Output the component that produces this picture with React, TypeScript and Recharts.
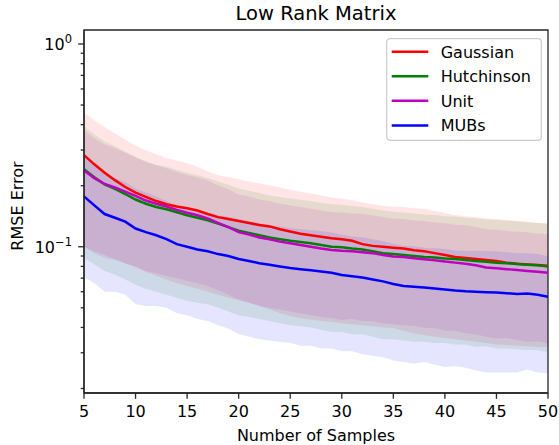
import React from 'react';
import { ComposedChart, Area, Line, XAxis, YAxis, Legend, ReferenceArea } from 'recharts';

const samples = [5, 6, 7, 8, 9, 10, 11, 12, 13, 14, 15, 16, 17, 18, 19, 20, 21, 22, 23, 24, 25, 26, 27, 28, 29, 30, 31, 32, 33, 34, 35, 36, 37, 38, 39, 40, 41, 42, 43, 44, 45, 46, 47, 48, 49, 50];

const gaussianMean = [0.283, 0.255, 0.232, 0.213, 0.197, 0.185, 0.176, 0.168, 0.162, 0.158, 0.155, 0.151, 0.145, 0.14, 0.137, 0.134, 0.131, 0.128, 0.126, 0.122, 0.119, 0.116, 0.114, 0.112, 0.11, 0.109, 0.107, 0.103, 0.101, 0.1, 0.099, 0.098, 0.096, 0.095, 0.093, 0.091, 0.089, 0.088, 0.087, 0.086, 0.085, 0.0835, 0.0825, 0.0818, 0.0812, 0.0806];
// spread above the mean
const gaussianStd = [0.175, 0.166, 0.158, 0.149, 0.14, 0.131, 0.123, 0.117, 0.112, 0.108, 0.103, 0.097, 0.09, 0.085, 0.083, 0.081, 0.079, 0.077, 0.075, 0.074, 0.072, 0.071, 0.069, 0.067, 0.065, 0.064, 0.063, 0.0625, 0.061, 0.0595, 0.0585, 0.059, 0.059, 0.059, 0.057, 0.0555, 0.054, 0.0535, 0.053, 0.052, 0.052, 0.052, 0.052, 0.051, 0.05, 0.0494];
// lower edge of the band
const gaussianLow = [0.1, 0.095, 0.091, 0.087, 0.083, 0.079, 0.075, 0.072, 0.069, 0.066, 0.064, 0.062, 0.06, 0.058, 0.056, 0.0545, 0.053, 0.051, 0.049, 0.047, 0.0455, 0.0444, 0.0437, 0.043, 0.0425, 0.042, 0.0415, 0.041, 0.0405, 0.04, 0.0397, 0.0385, 0.0375, 0.0366, 0.036, 0.0355, 0.035, 0.0345, 0.034, 0.0335, 0.033, 0.0328, 0.0325, 0.0323, 0.032, 0.032];

const hutchinsonMean = [0.241, 0.22, 0.203, 0.193, 0.182, 0.171, 0.163, 0.157, 0.153, 0.148, 0.143, 0.139, 0.135, 0.13, 0.125, 0.12, 0.117, 0.114, 0.111, 0.109, 0.107, 0.1055, 0.104, 0.102, 0.1, 0.0995, 0.098, 0.097, 0.095, 0.093, 0.092, 0.091, 0.09, 0.089, 0.0885, 0.0875, 0.087, 0.086, 0.085, 0.0843, 0.0835, 0.083, 0.0822, 0.0815, 0.081, 0.08];
const hutchinsonStd = [0.153, 0.138, 0.127, 0.12, 0.113, 0.106, 0.101, 0.097, 0.095, 0.092, 0.089, 0.086, 0.083, 0.08, 0.077, 0.074, 0.072, 0.07, 0.068, 0.067, 0.066, 0.065, 0.064, 0.063, 0.062, 0.0615, 0.061, 0.06, 0.059, 0.058, 0.057, 0.0565, 0.056, 0.055, 0.055, 0.054, 0.054, 0.053, 0.053, 0.052, 0.052, 0.0515, 0.051, 0.0505, 0.05, 0.05];

const unitMean = [0.238, 0.218, 0.204, 0.196, 0.187, 0.178, 0.169, 0.163, 0.158, 0.152, 0.147, 0.143, 0.138, 0.131, 0.125, 0.118, 0.115, 0.111, 0.109, 0.106, 0.104, 0.102, 0.1, 0.098, 0.0965, 0.0955, 0.095, 0.094, 0.093, 0.091, 0.0895, 0.089, 0.0878, 0.0868, 0.0858, 0.0845, 0.0835, 0.0825, 0.081, 0.079, 0.0783, 0.0775, 0.0767, 0.076, 0.0752, 0.0744];
const unitStd = [0.138, 0.125, 0.116, 0.11, 0.104, 0.098, 0.093, 0.089, 0.086, 0.082, 0.079, 0.077, 0.074, 0.07, 0.067, 0.063, 0.062, 0.06, 0.059, 0.057, 0.056, 0.055, 0.054, 0.053, 0.052, 0.052, 0.051, 0.051, 0.05, 0.049, 0.048, 0.048, 0.047, 0.047, 0.046, 0.046, 0.045, 0.045, 0.044, 0.043, 0.043, 0.042, 0.042, 0.042, 0.041, 0.041];

const mubsMean = [0.177, 0.16, 0.145, 0.139, 0.133, 0.123, 0.118, 0.114, 0.109, 0.103, 0.1, 0.097, 0.095, 0.092, 0.09, 0.087, 0.085, 0.083, 0.0815, 0.08, 0.0785, 0.0775, 0.0765, 0.0755, 0.0745, 0.0725, 0.0715, 0.0705, 0.069, 0.0675, 0.0655, 0.064, 0.0635, 0.063, 0.0622, 0.0615, 0.0608, 0.0603, 0.06, 0.0597, 0.0595, 0.059, 0.0585, 0.0588, 0.058, 0.0567];
const mubsStd = [0.106, 0.094, 0.085, 0.079, 0.075, 0.071, 0.067, 0.063, 0.059, 0.056, 0.054, 0.053, 0.052, 0.051, 0.0505, 0.05, 0.049, 0.048, 0.047, 0.046, 0.045, 0.045, 0.044, 0.044, 0.043, 0.042, 0.041, 0.041, 0.04, 0.039, 0.038, 0.037, 0.037, 0.036, 0.036, 0.036, 0.035, 0.035, 0.0355, 0.0357, 0.0355, 0.035, 0.0345, 0.034, 0.034, 0.033];

const xTicks = [5, 10, 15, 20, 25, 30, 35, 40, 45, 50];
const yTicks = [0.02, 0.03, 0.04, 0.05, 0.06, 0.07, 0.08, 0.09, 0.1, 0.2, 0.3, 0.4, 0.5, 0.6, 0.7, 0.8, 0.9, 1];
const yDomain = [0.019, 1.172];

const seriesNames = ['Gaussian', 'Hutchinson', 'Unit', 'MUBs'];
const seriesColors = ['#ff0000', '#008000', '#bf00bf', '#0000ff'];
const seriesKeys = ['gaussian', 'hutchinson', 'unit', 'mubs'];

const means = [gaussianMean, hutchinsonMean, unitMean, mubsMean];
const stds = [gaussianStd, hutchinsonStd, unitStd, mubsStd];
const lows: (number[] | null)[] = [gaussianLow, null, null, null];

const data = samples.map((n, i) => {
  const row: Record<string, any> = { n };
  seriesKeys.forEach((k, s) => {
    const m = means[s][i];
    const lowArr = lows[s];
    const lo = lowArr ? lowArr[i] : m - stds[s][i];
    row[k] = m;
    row[k + 'Band'] = [lo, m + stds[s][i]];
  });
  return row;
});

const FONT = 'DejaVu Sans, Verdana, sans-serif';
const AXIS_COLOR = '#262626';
const PLOT_LEFT = 84;
const PLOT_BOTTOM = 393;

const YTick = (props: any) => {
  const { y, payload } = props;
  const v = payload.value as number;
  const lg = Math.log10(v);
  const major = Math.abs(lg - Math.round(lg)) < 1e-6;
  const exp = Math.round(lg);
  return (
    <g>
      <line x1={PLOT_LEFT - (major ? 5.8 : 3.3)} x2={PLOT_LEFT} y1={y} y2={y} stroke={AXIS_COLOR} strokeWidth={1.3} />
      {major && (
        <text x={PLOT_LEFT - 12} y={y + 6} textAnchor="end" fontFamily={FONT} fontSize={16} fill="#000">
          10
          <tspan dy={-7} fontSize={11.5}>{exp < 0 ? '\u2212' + Math.abs(exp) : String(exp)}</tspan>
        </text>
      )}
    </g>
  );
};

const XTick = (props: any) => {
  const { x, payload } = props;
  return (
    <g>
      <line x1={x} x2={x} y1={PLOT_BOTTOM} y2={PLOT_BOTTOM + 5.8} stroke={AXIS_COLOR} strokeWidth={1.3} />
      <text x={x} y={PLOT_BOTTOM + 24} textAnchor="middle" fontFamily={FONT} fontSize={16} fill="#000">
        {payload.value}
      </text>
    </g>
  );
};

const LegendBox = () => {
  const rowsY = [13.7, 38.2, 62.7, 87.4];
  return (
    <svg width={156} height={103} style={{ display: 'block' }}>
      <rect x={0.65} y={0.65} width={154.7} height={101.7} rx={3.5} ry={3.5} fill="rgba(255,255,255,0.8)" stroke="#cccccc" strokeWidth={1.2} />
      {seriesNames.map((name, i) => (
        <g key={name}>
          <line x1={5.7} x2={42.3} y1={rowsY[i]} y2={rowsY[i]} stroke={seriesColors[i]} strokeWidth={2.5} />
          <text x={54.7} y={rowsY[i] + 5.8} fontFamily={FONT} fontSize={16} fill="#000">{name}</text>
        </g>
      ))}
    </svg>
  );
};

export default function App() {
  return (
    <div style={{ position: 'absolute', left: 0, top: 0, width: 559, height: 445, background: '#fff' }}>
      <ComposedChart width={559} height={445} data={data} margin={{ top: 30, right: 11, bottom: 0, left: 0 }}>
        <XAxis
          dataKey="n"
          type="number"
          domain={[5, 50]}
          ticks={xTicks}
          height={52}
          tickLine={false}
          axisLine={{ stroke: AXIS_COLOR, strokeWidth: 1.3 }}
          tick={<XTick />}
          interval={0}
          allowDataOverflow
        />
        <YAxis
          type="number"
          scale="log"
          domain={yDomain}
          ticks={yTicks}
          width={84}
          tickLine={false}
          axisLine={{ stroke: AXIS_COLOR, strokeWidth: 1.3 }}
          tick={<YTick />}
          interval={0}
          allowDataOverflow
        />
        {seriesKeys.map((k, i) => (
          <Area
            key={k + 'Band'}
            dataKey={k + 'Band'}
            stroke="none"
            fill={seriesColors[i]}
            fillOpacity={0.1}
            isAnimationActive={false}
            legendType="none"
            activeDot={false}
          />
        ))}
        {seriesKeys.map((k, i) => (
          <Line
            key={k}
            dataKey={k}
            name={seriesNames[i]}
            stroke={seriesColors[i]}
            strokeWidth={2.5}
            dot={false}
            activeDot={false}
            isAnimationActive={false}
          />
        ))}
        <ReferenceArea
          x1={5}
          x2={50}
          y1={yDomain[0]}
          y2={yDomain[1]}
          fill="none"
          stroke={AXIS_COLOR}
          strokeWidth={1.3}
          fillOpacity={0}
        />
        <Legend
          layout="vertical"
          align="center"
          verticalAlign="middle"
          content={() => <LegendBox />}
          wrapperStyle={{ position: 'absolute', left: 386, top: 38, width: 156, height: 103 }}
        />
        <text x={316} y={20} textAnchor="middle" fontFamily={FONT} fontSize={19.5} fill="#000">
          Low Rank Matrix
        </text>
        <text x={316} y={441} textAnchor="middle" fontFamily={FONT} fontSize={16} fill="#000">
          Number of Samples
        </text>
        <text
          x={23}
          y={206}
          textAnchor="middle"
          fontFamily={FONT}
          fontSize={16}
          fill="#000"
          transform="rotate(-90 23 206)"
        >
          RMSE Error
        </text>
      </ComposedChart>
    </div>
  );
}
